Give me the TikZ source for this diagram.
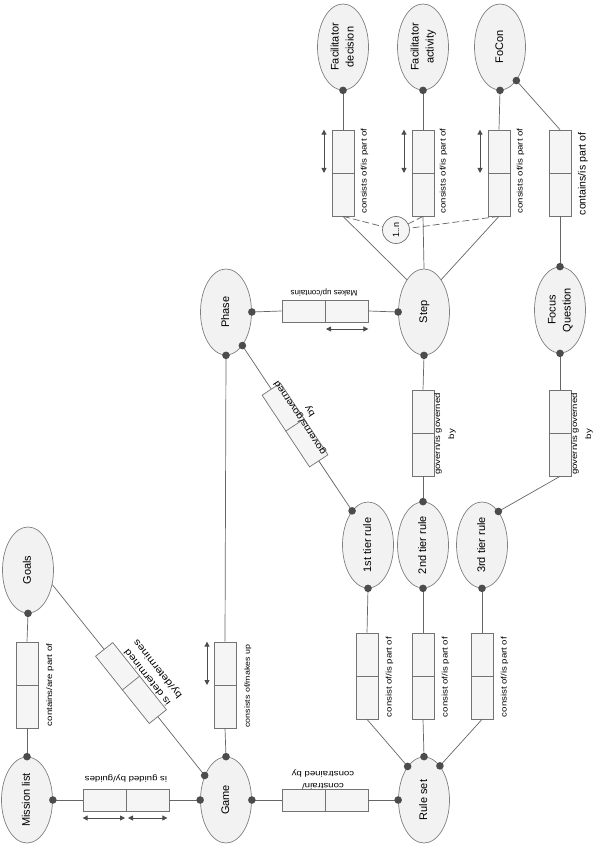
\documentclass[tikz,border=0pt]{standalone}
\usepackage{graphicx}
\usepackage{fontspec}
\setmainfont{Liberation Sans}
\newfontfamily\lblfont[FakeStretch=1.2]{Liberation Sans}
\usetikzlibrary{shapes.geometric,arrows.meta}
\newcommand\rt[1]{\rotatebox{90}{\begin{tabular}{@{}c@{}}#1\end{tabular}}}
\newcommand\relbox[3]{\node[rel,rotate=#3] (#1) at #2 {}; \draw[divider] (#1.north) -- (#1.south);}
\newcommand\dotat[1]{\fill[dotc] (#1) circle (3.8pt);}
\begin{document}
\begin{tikzpicture}[x=1pt,y=-1pt,
  ent/.style={ellipse,draw=black!50,line width=0.7pt,fill=black!5,minimum width=51pt,minimum height=86pt,inner sep=0pt,font=\fontsize{11}{15}\selectfont},
  rel/.style={rectangle,draw=black!55,line width=0.7pt,fill=black!4,minimum width=86pt,minimum height=22pt,inner sep=0pt},
  divider/.style={draw=black!55,line width=0.7pt},
  conn/.style={draw=black!60,line width=0.7pt},
  dashconn/.style={conn,dash pattern=on 7pt off 3pt},
  dotc/.style={fill=black!70},
  dbl/.style={draw=black!70,line width=0.9pt,{Triangle[length=5pt,width=5pt]}-{Triangle[length=5pt,width=5pt]}},
  lbl/.style={font=\lblfont\fontsize{8}{12}\selectfont,inner sep=0pt,align=center},
  biglbl/.style={font=\lblfont\fontsize{9.5}{13}\selectfont,inner sep=0pt,align=center},
]
\fill[white] (0,0) rectangle (595,850);
\useasboundingbox (0,0) rectangle (595,850);

% entities
\node[ent] (ml) at (27,800) {\rt{Mission list}};
\node[ent] (goals) at (28,570) {\rt{Goals}};
\node[ent] (game) at (226,800) {\rt{Game}};
\node[ent] (rules) at (424,800) {\rt{Rule set}};
\node[ent] (phase) at (226,312) {\rt{Phase}};
\node[ent] (step) at (424,312) {\rt{Step}};
\node[ent] (t1) at (368,545) {\rt{1st tier rule}};
\node[ent] (t2) at (423,545) {\rt{2nd tier rule}};
\node[ent] (t3) at (482,545) {\rt{3rd tier rule}};
\node[ent] (fq) at (560,310) {\rt{Focus\\Question}};
\node[ent] (fd) at (343,47) {\rt{Facilitator\\decision}};
\node[ent] (fa) at (423,47) {\rt{Facilitator\\activity}};
\node[ent] (fc) at (500,47) {\rt{FoCon}};

% relationship boxes
\relbox{bmg}{(27,685)}{90}
\relbox{bmlgame}{(126,800)}{0}
\relbox{bgg}{(131,683)}{-51.4}
\relbox{bgp}{(225,685)}{90}
\relbox{bps}{(325,311)}{0}
\relbox{bpt}{(295,425)}{-56.5}
\relbox{bgr}{(325,800)}{0}
\relbox{br1}{(367,676)}{90}
\relbox{br2}{(423,676)}{90}
\relbox{br3}{(482,676)}{90}
\relbox{bst}{(423,433)}{90}
\relbox{bfq}{(560,433)}{90}
\relbox{bfd}{(343,173)}{90}
\relbox{bfa}{(423,173)}{90}
\relbox{bfc}{(499,173)}{90}
\relbox{bfqc}{(560,173)}{90}

% cardinality circle
\node[circle,draw=black!55,line width=0.7pt,fill=black!4,minimum size=27pt,inner sep=0pt,font=\fontsize{9}{10}\selectfont] (n1) at (396,230) {\rotatebox{90}{1..n}};

% connectors
\draw[conn] (goals.270) -- (bmg.east);
\draw[conn] (bmg.west) -- (ml.90);
\draw[conn] (ml.0) -- (bmlgame.west);
\draw[conn] (bmlgame.east) -- (game.180);
\draw[conn] (goals.-31) -- (bgg.west);
\draw[conn] (bgg.east) -- (game.131);
\draw[conn] (game.90) -- (bgp.west);
\draw[conn] (bgp.east) -- (phase.270);
\draw[conn] (phase.0) -- (bps.west);
\draw[conn] (bps.east) -- (step.180);
\draw[conn] (phase.-64) -- (bpt.west);
\draw[conn] (bpt.east) -- (t1.115.2);
\draw[conn] (game.0) -- (bgr.west);
\draw[conn] (bgr.east) -- (rules.180);
\draw[conn] (rules.116.6) -- (br1.west);
\draw[conn] (br1.east) -- (t1.270);
\draw[conn] (rules.90) -- (br2.west);
\draw[conn] (br2.east) -- (t2.270);
\draw[conn] (rules.65.6) -- (br3.west);
\draw[conn] (br3.east) -- (t3.270);
\draw[conn] (step.270) -- (bst.east);
\draw[conn] (bst.west) -- (t2.90);
\draw[conn] (fq.270) -- (bfq.east);
\draw[conn] (bfq.west) -- (t3.64);
\draw[conn] (fq.90) -- (bfqc.west);
\draw[conn] (bfqc.east) -- (fc.-64.8);
\draw[conn] (fd.270) -- (bfd.east);
\draw[conn] (fa.270) -- (bfa.east);
\draw[conn] (fc.270) -- (bfc.east);
\draw[conn] (bfd.west) -- (step.118);
\draw[conn] (bfa.west) -- (step.90);
\draw[conn] (bfc.west) -- (step.62);
\draw[dashconn] (bfd.west) -- (n1);
\draw[dashconn] (bfa.west) -- (n1);
\draw[dashconn] (bfc.west) -- (n1);

% dots
\foreach \a in {ml.90,ml.0,goals.270,game.180,game.131,game.90,game.0,
  rules.180,rules.116.6,rules.90,rules.65.6,phase.0,phase.270,phase.-64,
  step.180,step.270,t1.115.2,t1.270,t2.90,t2.270,t3.64,t3.270,
  fq.90,fq.270,fd.270,fa.270,fc.270,fc.-64.8}{\dotat{\a}}

% direction arrows
\draw[dbl] ([yshift=-18pt]bmlgame.west) -- ([yshift=-18pt,xshift=-1pt]bmlgame.center);
\draw[dbl] ([yshift=-18pt,xshift=2pt]bmlgame.center) -- ([yshift=-18pt,xshift=-2pt]bmlgame.east);
\draw[dbl] ([xshift=-18pt]bgp.east) -- ([xshift=-18pt]bgp.center);
\draw[dbl] ([yshift=-18pt,xshift=1pt]bps.center) -- ([yshift=-18pt]bps.east);
\draw[dbl] ([xshift=-19pt]bfd.east) -- ([xshift=-19pt]bfd.center);
\draw[dbl] ([xshift=-19pt]bfa.east) -- ([xshift=-19pt]bfa.center);
\draw[dbl] ([xshift=-19pt]bfc.east) -- ([xshift=-19pt]bfc.center);

% labels
\node[lbl,rotate=90] (lmg) at (50,685) {contains/are part of};
\node[lbl,rotate=180] (lmlg) at (126,779) {is guided by/guides};
\node[biglbl,rotate=128.6] (lgg) at (153,673) {is determined\\by/determines};
\node[lbl,rotate=90,font=\lblfont\fontsize{7.4}{9}\selectfont] (lgp) at (248,686) {consists of/makes up};
\node[lbl,rotate=180,font=\fontsize{8}{9}\selectfont] (lps) at (324,293) {Makes up/contains};
\node[biglbl,rotate=123.5,font=\lblfont\fontsize{9}{12}\selectfont] (lpt) at (305,414) {governs/governed\\by};
\node[lbl,rotate=180] (lgr) at (323,780) {constrain/\\constrained by};
\node[lbl,rotate=90] (lr1) at (389.5,677) {consist of/is part of};
\node[lbl,rotate=90] (lr2) at (445.5,677) {consist of/is part of};
\node[lbl,rotate=90] (lr3) at (504.5,677) {consist of/is part of};
\node[lbl,rotate=90,font=\lblfont\fontsize{8}{14}\selectfont] (lst) at (445,434) {govern/is governed\\by};
\node[lbl,rotate=90,font=\lblfont\fontsize{8}{14}\selectfont] (lfq) at (582,434) {govern/is governed\\by};
\node[lbl,rotate=90] (lfd) at (364.5,171) {consists of/is part of};
\node[lbl,rotate=90] (lfa) at (443.5,171) {consists of/is part of};
\node[lbl,rotate=90] (lfc) at (520.5,171) {consists of/is part of};
\node[inner sep=0pt,rotate=90,font=\fontsize{10.5}{12}\selectfont] (lfqc) at (583,174) {contains/is part of};
\end{tikzpicture}
\end{document}
